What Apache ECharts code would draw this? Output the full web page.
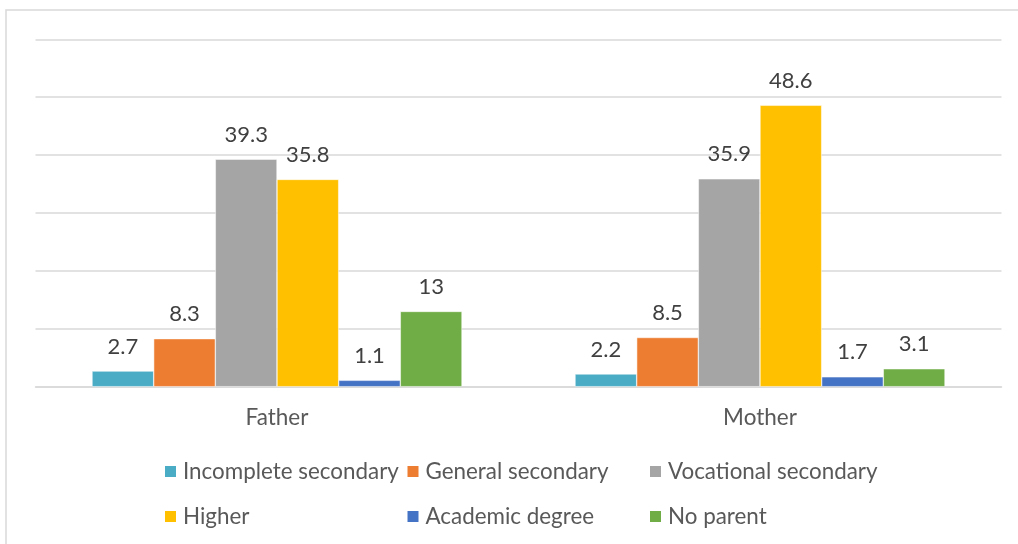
<!DOCTYPE html>
<html>
<head>
<meta charset="utf-8">
<script src="https://cdn.jsdelivr.net/npm/echarts@6/dist/echarts.min.js"></script>
<style>
html,body{margin:0;padding:0;background:#fff;}
#chart{width:1018px;height:544px;}
</style>
</head>
<body>
<div id="chart"></div>
<script>
const categories = ['Father', 'Mother'];
const seriesNames = ['Incomplete secondary', 'General secondary', 'Vocational secondary', 'Higher', 'Academic degree', 'No parent'];
const incompleteSecondary = [2.7, 2.2];
const generalSecondary = [8.3, 8.5];
const vocationalSecondary = [39.3, 35.9];
const higher = [35.8, 48.6];
const academicDegree = [1.1, 1.7];
const noParent = [13, 3.1];
const colors = ['#4BACC6', '#ED7D31', '#A5A5A5', '#FFC000', '#4472C4', '#70AD47'];

const values = [incompleteSecondary, generalSecondary, vocationalSecondary, higher, academicDegree, noParent];
const FONT = 'Lato';

const chart = echarts.init(document.getElementById('chart'), null, {renderer: 'canvas'});
chart.setOption({
  animation: false,
  backgroundColor: '#ffffff',
  color: colors,
  graphic: [{
    type: 'rect',
    shape: {x: 6, y: 10, width: 1100, height: 600},
    style: {fill: 'none', stroke: '#D9D9D9', lineWidth: 1.5},
    silent: true
  }],
  grid: {left: 35.5, right: 16.5, top: 39.3, bottom: 157.3, containLabel: false},
  legend: {
    left: 163,
    top: 449,
    width: 740,
    padding: 0,
    itemGap: 0,
    itemWidth: 13,
    itemHeight: 13,
    icon: 'rect',
    data: seriesNames,
    textStyle: {fontFamily: FONT, fontSize: 22.4, color: '#595959', width: 222.5, lineHeight: 45, padding: [0, 0, 0, 1]}
  },
  xAxis: {
    type: 'category',
    data: categories,
    axisLine: {lineStyle: {color: '#D9D9D9', width: 1.5}},
    axisTick: {show: false},
    axisLabel: {fontFamily: FONT, fontSize: 22.5, color: '#595959', margin: 20}
  },
  yAxis: {
    type: 'value',
    min: 0,
    max: 60,
    interval: 10,
    axisLabel: {show: false},
    axisLine: {show: false},
    axisTick: {show: false},
    splitLine: {lineStyle: {color: '#D9D9D9', width: 1.5}}
  },
  series: seriesNames.map((name, i) => ({
    name: name,
    type: 'bar',
    data: values[i],
    barGap: '0%',
    barCategoryGap: '23.4%',
    itemStyle: {color: colors[i], borderColor: '#ffffff', borderWidth: 0.5},
    label: {show: true, position: 'top', distance: 13.5, fontFamily: FONT, fontSize: 22, color: '#404040'}
  }))
});
</script>
</body>
</html>
